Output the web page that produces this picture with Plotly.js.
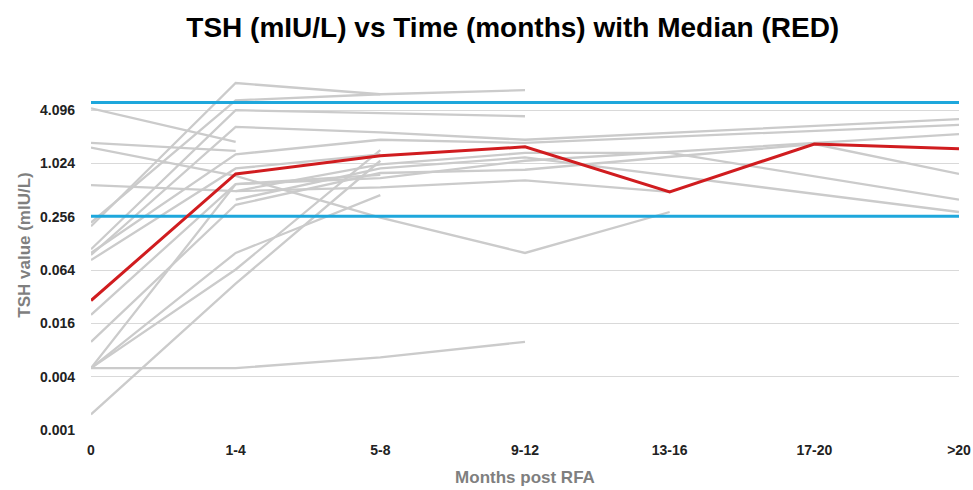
<!DOCTYPE html>
<html>
<head>
<meta charset="utf-8">
<script src="https://cdn.plot.ly/plotly-3.0.1.min.js"></script>
<style>html,body{margin:0;padding:0;background:#fff;}#chart{width:973px;height:490px;}</style>
</head>
<body>
<div id="chart"></div>
<script>
const categories = ['0', '1-4', '5-8', '9-12', '13-16', '17-20', '>20'];
const yTickVals = [0.001, 0.004, 0.016, 0.064, 0.256, 1.024, 4.096];
const yTickText = ['0.001', '0.004', '0.016', '0.064', '0.256', '1.024', '4.096'];
const median = [0.029, 0.78, 1.25, 1.58, 0.49, 1.7, 1.5];
const refLow = [0.26, 0.26];
const refHigh = [5.0, 5.0];

const p01 = [4.3, 1.8, null, null, null, null, null];
const p02 = [1.75, 1.42, null, null, null, null, null];
const p03 = [1.55, 0.74, 0.25, 0.1, 0.29, null, null];
const p04 = [0.585, 0.5, 0.55, 0.66, 0.49, null, null];
const p05 = [0.2, 8.3, 6.2, null, null, null, null];
const p06 = [0.22, 5.3, 6.2, 6.9, null, null, null];
const p07 = [0.11, 4.1, 3.8, 3.5, null, null, null];
const p08 = [0.095, 2.65, 2.3, 1.9, null, null, 3.25];
const p09 = [0.1, 1.3, 1.9, 1.75, null, null, 2.8];
const p10 = [0.083, 0.9, 1.3, null, null, null, null];
const p11 = [0.02, 0.6, 0.7, 1.1, null, null, 2.2];
const p12 = [0.0099, 0.35, 0.8, 0.87, null, 1.7, 0.78];
const p13 = [0.005, 0.005, 0.0066, 0.0099, null, null, null];
const p14 = [0.005, 0.1, 0.45, null, null, null, null];
const p15 = [0.005, 0.065, 1.45, null, null, null, null];
const p16 = [0.005, 0.6, 0.76, null, null, null, null];
const p17 = [0.0015, 0.045, 1.1, null, null, null, null];
const p18 = [null, 0.5, 1.0, 1.35, 1.35, null, 0.4];
const p19 = [null, 0.4, 0.9, 1.2, null, null, 0.29];

const patients = [p01, p02, p03, p04, p05, p06, p07, p08, p09, p10, p11, p12, p13, p14, p15, p16, p17, p18, p19];

const FONT = 'Liberation Sans, Arial, sans-serif';
const traces = [];
patients.forEach(function (p) {
  traces.push({
    x: categories, y: p, type: 'scatter', mode: 'lines', connectgaps: true,
    line: {color: '#cbcbcb', width: 2.3}, hoverinfo: 'skip', showlegend: false
  });
});
traces.push({x: [categories[0], categories[categories.length - 1]], y: refHigh, type: 'scatter', mode: 'lines',
  line: {color: '#1ea7dc', width: 3}, showlegend: false, hoverinfo: 'skip'});
traces.push({x: [categories[0], categories[categories.length - 1]], y: refLow, type: 'scatter', mode: 'lines',
  line: {color: '#1ea7dc', width: 3}, showlegend: false, hoverinfo: 'skip'});
traces.push({x: categories, y: median, type: 'scatter', mode: 'lines',
  line: {color: '#d01c1f', width: 3}, showlegend: false, name: 'Median'});

const layout = {
  width: 973, height: 490,
  margin: {l: 91, r: 14, t: 60, b: 60},
  paper_bgcolor: '#ffffff', plot_bgcolor: '#ffffff',
  title: {text: 'TSH (mIU/L) vs Time (months) with Median (RED)', x: 0.527, xanchor: 'center', y: 0.945, yanchor: 'middle',
    font: {family: FONT, size: 28, color: '#000000', weight: 'bold'}},
  xaxis: {
    type: 'category', range: [0, 6], showgrid: false, zeroline: false, showline: false, ticks: '',
    ticklabelstandoff: 10,
    tickfont: {family: FONT, size: 14, color: '#222222', weight: 'bold'},
    title: {text: 'Months post RFA', standoff: 14, font: {family: FONT, size: 17, color: '#7f7f7f', weight: 'bold'}}
  },
  yaxis: {
    type: 'log', range: [-3, 1.1795], tickvals: yTickVals, ticktext: yTickText,
    showgrid: true, gridcolor: '#d9d9d9', gridwidth: 1, zeroline: false, showline: false, ticks: '',
    ticklabelstandoff: 15,
    tickfont: {family: FONT, size: 14, color: '#222222', weight: 'bold'},
    title: {text: 'TSH value (mIU/L)', standoff: 5, font: {family: FONT, size: 17, color: '#7f7f7f', weight: 'bold'}}
  }
};

Plotly.newPlot('chart', traces, layout, {displayModeBar: false, staticPlot: true});
</script>
</body>
</html>
